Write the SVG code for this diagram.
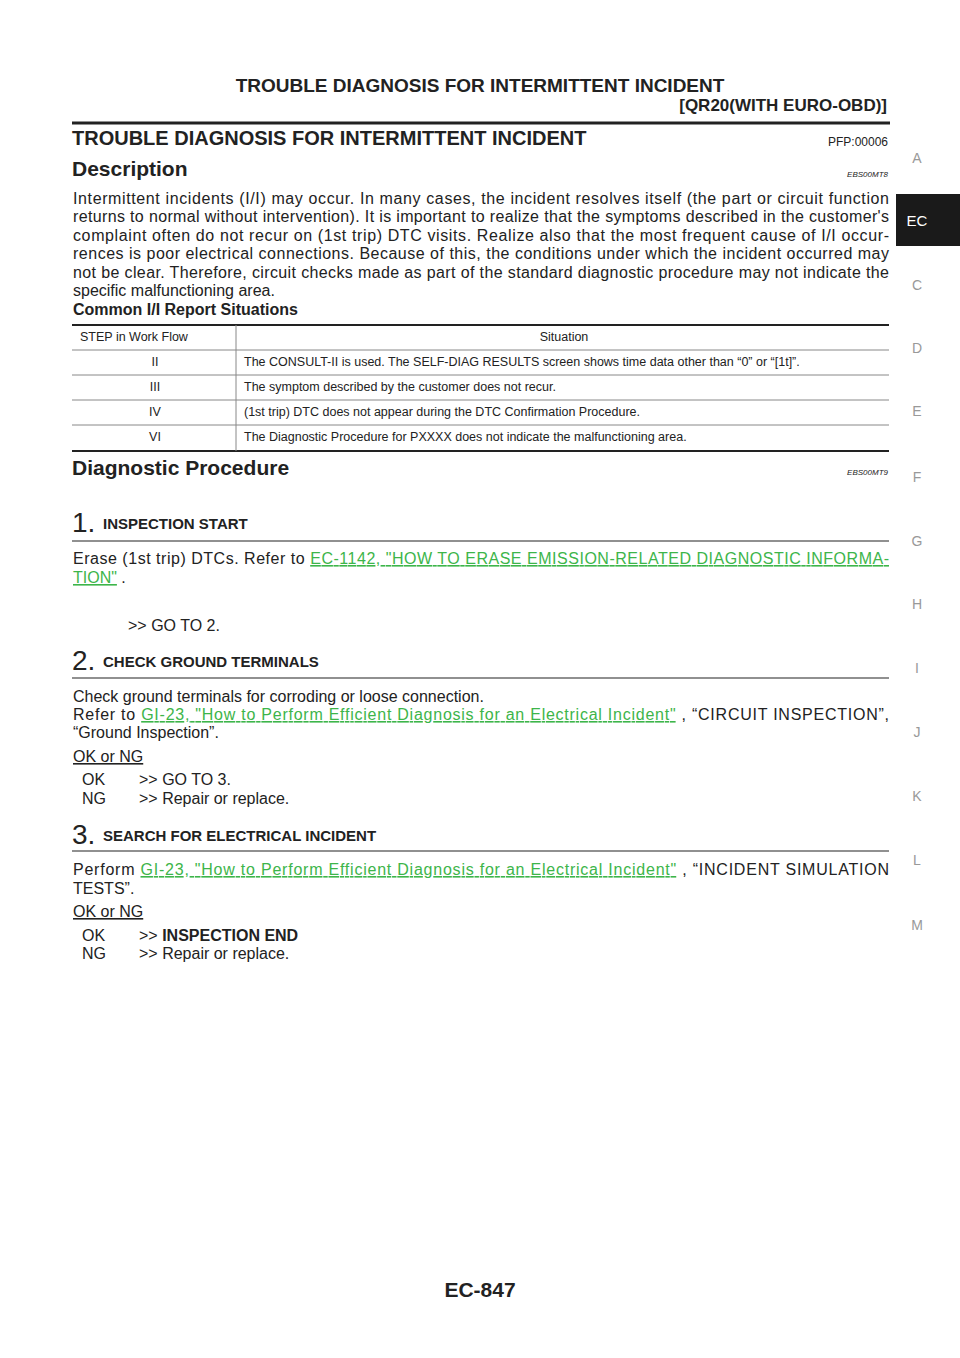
<svg xmlns="http://www.w3.org/2000/svg" width="960" height="1358" viewBox="0 0 960 1358">
<style>
text{font-family:"Liberation Sans",Arial,sans-serif;fill:#222}
.b{font-weight:bold}
.t{font-size:16px}
.s{font-size:12.5px}
.tab{font-size:14px;fill:#999}
.lk{fill:#3db54a;text-decoration:underline}
.code{font-size:8px;font-style:italic}
</style>
<rect width="960" height="1358" fill="#fff"/>
<g id="header">
<text x="480" y="92" text-anchor="middle" class="b" font-size="19">TROUBLE DIAGNOSIS FOR INTERMITTENT INCIDENT</text>
<text x="887" y="111" text-anchor="end" class="b" font-size="17">[QR20(WITH EURO-OBD)]</text>
<line x1="72" y1="123" x2="890" y2="123" stroke="#222" stroke-width="3"/>
<text x="72" y="145" class="b" font-size="20">TROUBLE DIAGNOSIS FOR INTERMITTENT INCIDENT</text>
<text x="888" y="146" text-anchor="end" font-size="12">PFP:00006</text>
</g>
<g id="tabs">
<rect x="896" y="194" width="64" height="52" fill="#1a1a1a"/>
<text x="917" y="226" font-size="15" style="fill:#fff" text-anchor="middle">EC</text>
<text x="917" y="163" class="tab" text-anchor="middle">A</text>
<text x="917" y="290" class="tab" text-anchor="middle">C</text>
<text x="917" y="353" class="tab" text-anchor="middle">D</text>
<text x="917" y="416" class="tab" text-anchor="middle">E</text>
<text x="917" y="482" class="tab" text-anchor="middle">F</text>
<text x="917" y="546" class="tab" text-anchor="middle">G</text>
<text x="917" y="609" class="tab" text-anchor="middle">H</text>
<text x="917" y="673" class="tab" text-anchor="middle">I</text>
<text x="917" y="737" class="tab" text-anchor="middle">J</text>
<text x="917" y="801" class="tab" text-anchor="middle">K</text>
<text x="917" y="865" class="tab" text-anchor="middle">L</text>
<text x="917" y="930" class="tab" text-anchor="middle">M</text>
</g>
<g id="description">
<text x="72" y="176" class="b" font-size="21">Description</text>
<text x="888" y="177" text-anchor="end" class="code">EBS00MT8</text>
<text x="73" y="204" class="t" textLength="816" lengthAdjust="spacing">Intermittent incidents (I/I) may occur. In many cases, the incident resolves itself (the part or circuit function</text>
<text x="73" y="222" class="t" textLength="816" lengthAdjust="spacing">returns to normal without intervention). It is important to realize that the symptoms described in the customer's</text>
<text x="73" y="241" class="t" textLength="816" lengthAdjust="spacing">complaint often do not recur on (1st trip) DTC visits. Realize also that the most frequent cause of I/I occur-</text>
<text x="73" y="259" class="t" textLength="816" lengthAdjust="spacing">rences is poor electrical connections. Because of this, the conditions under which the incident occurred may</text>
<text x="73" y="278" class="t" textLength="816" lengthAdjust="spacing">not be clear. Therefore, circuit checks made as part of the standard diagnostic procedure may not indicate the</text>
<text x="73" y="296" class="t">specific malfunctioning area.</text>
<text x="73" y="315" class="t b">Common I/I Report Situations</text>
</g>
<g id="table">
<line x1="72" y1="325" x2="889" y2="325" stroke="#222" stroke-width="2"/>
<line x1="72" y1="350" x2="889" y2="350" stroke="#888" stroke-width="1"/>
<line x1="72" y1="375" x2="889" y2="375" stroke="#888" stroke-width="1"/>
<line x1="72" y1="400" x2="889" y2="400" stroke="#888" stroke-width="1"/>
<line x1="72" y1="425" x2="889" y2="425" stroke="#888" stroke-width="1"/>
<line x1="72" y1="451" x2="889" y2="451" stroke="#222" stroke-width="2"/>
<line x1="236" y1="325" x2="236" y2="451" stroke="#888" stroke-width="1"/>
<text x="80" y="341" class="s">STEP in Work Flow</text>
<text x="564" y="341" class="s" text-anchor="middle">Situation</text>
<text x="155" y="366" class="s" text-anchor="middle">II</text>
<text x="244" y="366" class="s">The CONSULT-II is used. The SELF-DIAG RESULTS screen shows time data other than “0” or “[1t]”.</text>
<text x="155" y="391" class="s" text-anchor="middle">III</text>
<text x="244" y="391" class="s">The symptom described by the customer does not recur.</text>
<text x="155" y="416" class="s" text-anchor="middle">IV</text>
<text x="244" y="416" class="s">(1st trip) DTC does not appear during the DTC Confirmation Procedure.</text>
<text x="155" y="441" class="s" text-anchor="middle">VI</text>
<text x="244" y="441" class="s">The Diagnostic Procedure for PXXXX does not indicate the malfunctioning area.</text>
</g>
<g id="procedure">
<text x="72" y="475" class="b" font-size="21">Diagnostic Procedure</text>
<text x="888" y="475" text-anchor="end" class="code">EBS00MT9</text>
</g>
<g id="step1">
<text x="72" y="532" font-size="28">1.</text>
<text x="103" y="529" class="b" font-size="15">INSPECTION START</text>
<line x1="72" y1="541" x2="889" y2="541" stroke="#222" stroke-width="1.2"/>
<text x="73" y="564" class="t" textLength="816" lengthAdjust="spacing">Erase (1st trip) DTCs. Refer to <tspan class="lk">EC-1142, "HOW TO ERASE EMISSION-RELATED DIAGNOSTIC INFORMA-</tspan></text>
<text x="73" y="583" class="t"><tspan class="lk">TION"</tspan> .</text>
<text x="128" y="631" class="t">&gt;&gt; GO TO 2.</text>
</g>
<g id="step2">
<text x="72" y="670" font-size="28">2.</text>
<text x="103" y="667" class="b" font-size="15">CHECK GROUND TERMINALS</text>
<line x1="72" y1="678" x2="889" y2="678" stroke="#222" stroke-width="1.2"/>
<text x="73" y="702" class="t">Check ground terminals for corroding or loose connection.</text>
<text x="73" y="720" class="t" textLength="816" lengthAdjust="spacing">Refer to <tspan class="lk">GI-23, "How to Perform Efficient Diagnosis for an Electrical Incident"</tspan> , “CIRCUIT INSPECTION”,</text>
<text x="73" y="738" class="t">“Ground Inspection”.</text>
<text x="73" y="762" class="t" text-decoration="underline">OK or NG</text>
<text x="82" y="785" class="t">OK</text><text x="139" y="785" class="t">&gt;&gt; GO TO 3.</text>
<text x="82" y="804" class="t">NG</text><text x="139" y="804" class="t">&gt;&gt; Repair or replace.</text>
</g>
<g id="step3">
<text x="72" y="844" font-size="28">3.</text>
<text x="103" y="841" class="b" font-size="15">SEARCH FOR ELECTRICAL INCIDENT</text>
<line x1="72" y1="851" x2="889" y2="851" stroke="#222" stroke-width="1.2"/>
<text x="73" y="875" class="t" textLength="816" lengthAdjust="spacing">Perform <tspan class="lk">GI-23, "How to Perform Efficient Diagnosis for an Electrical Incident"</tspan> , “INCIDENT SIMULATION</text>
<text x="73" y="894" class="t">TESTS”.</text>
<text x="73" y="917" class="t" text-decoration="underline">OK or NG</text>
<text x="82" y="941" class="t">OK</text><text x="139" y="941" class="t">&gt;&gt; <tspan class="b">INSPECTION END</tspan></text>
<text x="82" y="959" class="t">NG</text><text x="139" y="959" class="t">&gt;&gt; Repair or replace.</text>
</g>
<g id="footer">
<text x="480" y="1297" text-anchor="middle" class="b" font-size="21">EC-847</text>
</g>
</svg>
